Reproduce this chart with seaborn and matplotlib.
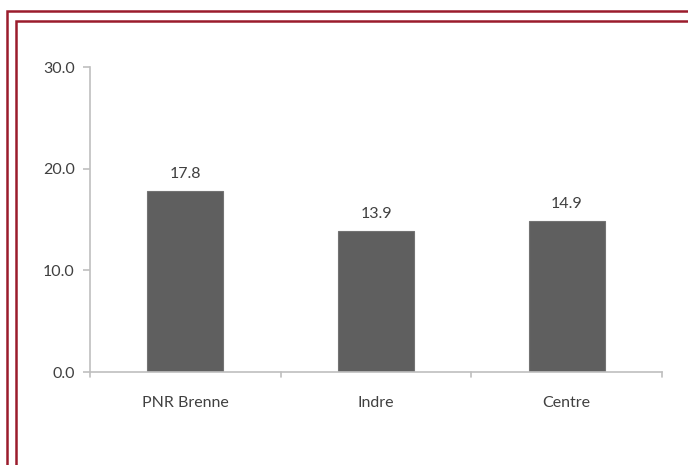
import matplotlib
matplotlib.use("Agg")
import matplotlib.pyplot as plt
from matplotlib.patches import Rectangle
import seaborn as sns
import pandas as pd

categories = ["PNR Brenne", "Indre", "Centre"]
values = [17.8, 13.9, 14.9]
yticks = [0, 10, 20, 30]
ytick_labels = ["0.0", "10.0", "20.0", "30.0"]

sns.set_style("white")
plt.rcParams['font.family'] = ['Lato', 'DejaVu Sans']

W, H = 688, 465
fig = plt.figure(figsize=(W / 100, H / 100), dpi=100)
ax = fig.add_axes([90 / W, 1 - 372 / H, (662 - 90) / W, (372 - 67) / H])

df = pd.DataFrame({"cat": categories, "val": values})
sns.barplot(data=df, x="cat", y="val", color="#5f5f5f", saturation=1,
            width=0.4, edgecolor="#737373", linewidth=0.8, ax=ax)

ax.set_ylim(0, 30)
ax.set_xlim(-0.5, 2.5)
ax.set_yticks(yticks)
ax.set_yticklabels(ytick_labels)
ax.set_xlabel("")
ax.set_ylabel("")

fs = 11.5
text_color = "#404040"
axis_color = "#bfbfbf"
for s in ["top", "right"]:
    ax.spines[s].set_visible(False)
for s in ["left", "bottom"]:
    ax.spines[s].set_color(axis_color)
    ax.spines[s].set_linewidth(1.2)

ax.tick_params(axis="y", left=True, length=5, width=1.2, color=axis_color,
               labelsize=fs, labelcolor=text_color, pad=6)
ax.tick_params(axis="x", bottom=False, labelsize=fs, labelcolor=text_color, pad=14)
# category separator ticks
for xb in [-0.5, 0.5, 1.5, 2.5]:
    ax.plot([xb, xb], [0, -0.5], color=axis_color, lw=1.2,
            clip_on=False, transform=ax.transData)

for i, v in enumerate(values):
    ax.annotate(f"{v:.1f}", (i, v), xytext=(0, 7), textcoords="offset points",
                ha="center", va="bottom", fontsize=fs, color=text_color)

border = "#9b1c2c"
fig.patches.append(Rectangle((7 / W, -0.1), 1.2, 1 - 11 / H + 0.1, transform=fig.transFigure,
                             fill=False, edgecolor=border, linewidth=1.8, figure=fig))
fig.patches.append(Rectangle((16 / W, -0.1), 1.2, 1 - 21 / H + 0.1, transform=fig.transFigure,
                             fill=False, edgecolor=border, linewidth=1.8, figure=fig))

fig.savefig("out.png", dpi=100)
